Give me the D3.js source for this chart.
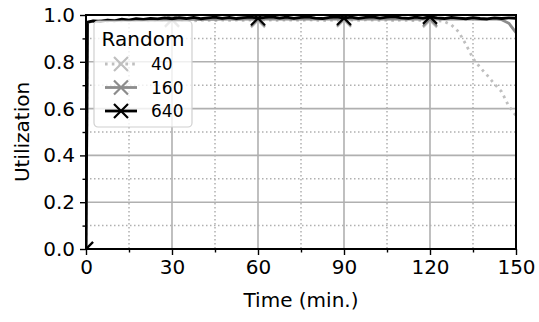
<!DOCTYPE html>
<meta charset="utf-8" />
<style>
  body { margin: 0; background: #fff; }
  svg { font-family: "DejaVu Sans", sans-serif; }
  .axis path, .axis line { stroke: #000; }
</style>
<body>
<script src="https://d3js.org/d3.v7.min.js"></script>
<script>
// time in minutes
var times = [0, 0.5, 2.5, 5, 7.5, 10, 12.5, 15, 17.5, 20, 22.5, 25, 27.5, 30, 32.5, 35, 37.5, 40,
  42.5, 45, 47.5, 50, 52.5, 55, 57.5, 60, 62.5, 65, 67.5, 70, 72.5, 75, 77.5, 80, 82.5, 85, 87.5,
  90, 92.5, 95, 97.5, 100, 102.5, 105, 107.5, 110, 112.5, 115, 117.5, 120, 122.5, 125, 127.5,
  130, 132.5, 135, 137.5, 140, 142.5, 145, 147.5, 150];

var util40 = [0, 0.965, 0.972, 0.975, 0.973, 0.976, 0.974, 0.977, 0.975, 0.976, 0.974, 0.977, 0.976, 0.978,
  0.976, 0.977, 0.975, 0.978, 0.977, 0.976, 0.978, 0.977, 0.979, 0.977, 0.978, 0.977, 0.979, 0.978,
  0.977, 0.979, 0.978, 0.977, 0.979, 0.978, 0.976, 0.978, 0.977, 0.979, 0.978, 0.977, 0.979, 0.978,
  0.977, 0.978, 0.976, 0.978, 0.977, 0.976, 0.978, 0.977, 0.976, 0.972, 0.957,
  0.928, 0.875, 0.815, 0.775, 0.742, 0.705, 0.672, 0.61, 0.57];

var util160 = [0, 0.968, 0.974, 0.976, 0.978, 0.977, 0.979, 0.978, 0.980, 0.979, 0.981, 0.980, 0.979, 0.981,
  0.980, 0.982, 0.981, 0.980, 0.982, 0.981, 0.983, 0.982, 0.981, 0.983, 0.982, 0.981, 0.983, 0.982,
  0.984, 0.983, 0.982, 0.984, 0.983, 0.982, 0.984, 0.983, 0.982, 0.983, 0.984, 0.982, 0.983, 0.984,
  0.983, 0.982, 0.984, 0.983, 0.982, 0.984, 0.983, 0.982, 0.983, 0.982, 0.984,
  0.983, 0.982, 0.983, 0.981, 0.982, 0.983, 0.980, 0.965, 0.925];

var util640 = [0, 0.97, 0.975, 0.972, 0.978, 0.975, 0.982, 0.978, 0.984, 0.981, 0.986, 0.983, 0.988, 0.984,
  0.989, 0.985, 0.990, 0.984, 0.988, 0.991, 0.986, 0.990, 0.985, 0.989, 0.991, 0.986, 0.990, 0.992,
  0.987, 0.991, 0.986, 0.990, 0.992, 0.987, 0.985, 0.990, 0.992, 0.987, 0.991, 0.986, 0.990, 0.992,
  0.987, 0.991, 0.993, 0.988, 0.986, 0.991, 0.987, 0.992, 0.988, 0.985, 0.990,
  0.987, 0.984, 0.989, 0.985, 0.983, 0.988, 0.985, 0.988, 0.986];

var seriesNames = ["40", "160", "640"];
var markTimes = [[0, 30, 60, 90, 120], [0, 30, 60, 90, 120], [0, 60, 90, 120]];
var xTicks = [0, 30, 60, 90, 120, 150];
var yTicks = [0, 0.2, 0.4, 0.6, 0.8, 1.0];

var colors = ["#bfbfbf", "#8c8c8c", "#000000"];
var dashes = ["2.6,4.2", null, null];
var allVals = [util40, util160, util640];

var W = 539, H = 322;
var margin = { top: 15, right: 23, bottom: 73, left: 86 };
var width = W - margin.left - margin.right,
    height = H - margin.top - margin.bottom;

var x = d3.scaleLinear().domain([0, 150]).range([0, width]);
var y = d3.scaleLinear().domain([0, 1]).range([height, 0]);

var svg = d3.select("body").append("svg")
  .attr("width", W).attr("height", H)
  .append("g")
  .attr("transform", "translate(" + margin.left + "," + margin.top + ")");

svg.append("clipPath").attr("id", "clip")
  .append("rect").attr("width", width).attr("height", height);

// minor grid (dotted)
var g = svg.append("g");
d3.range(15, 150, 30).forEach(function (t) {
  g.append("line").attr("x1", x(t)).attr("x2", x(t)).attr("y1", 0).attr("y2", height)
    .attr("stroke", "#b0b0b0").attr("stroke-width", 1.5).attr("stroke-dasharray", "1.5,2.5");
});
[0.1, 0.3, 0.5, 0.7, 0.9].forEach(function (v) {
  g.append("line").attr("x1", 0).attr("x2", width).attr("y1", y(v)).attr("y2", y(v))
    .attr("stroke", "#b0b0b0").attr("stroke-width", 1.5).attr("stroke-dasharray", "1.5,2.5");
});
// major grid
xTicks.forEach(function (t) {
  g.append("line").attr("x1", x(t)).attr("x2", x(t)).attr("y1", 0).attr("y2", height)
    .attr("stroke", "#b0b0b0").attr("stroke-width", 1.6);
});
yTicks.forEach(function (v) {
  g.append("line").attr("x1", 0).attr("x2", width).attr("y1", y(v)).attr("y2", y(v))
    .attr("stroke", "#b0b0b0").attr("stroke-width", 1.6);
});

var line = d3.line()
  .x(function (d) { return x(d[0]); })
  .y(function (d) { return y(d[1]); });

function xMark(sel, cx, cy, r, color, sw) {
  sel.append("path")
    .attr("d", "M" + (cx - r) + "," + (cy - r) + "L" + (cx + r) + "," + (cy + r) +
      "M" + (cx - r) + "," + (cy + r) + "L" + (cx + r) + "," + (cy - r))
    .attr("stroke", color).attr("stroke-width", sw).attr("fill", "none");
}

var plot = svg.append("g").attr("clip-path", "url(#clip)");
seriesNames.forEach(function (name, i) {
  var pts = times.map(function (t, j) { return [t, allVals[i][j]]; });
  plot.append("path")
    .attr("d", line(pts))
    .attr("fill", "none")
    .attr("stroke", colors[i])
    .attr("stroke-width", 2.8)
    .attr("stroke-linejoin", "round")
    .attr("stroke-dasharray", dashes[i]);
  markTimes[i].forEach(function (t) {
    var j = times.indexOf(t);
    xMark(plot, x(t), y(allVals[i][j]), 7, colors[i], 2.2);
  });
});

// axes
svg.append("g").attr("class", "axis")
  .attr("transform", "translate(0," + height + ")")
  .call(d3.axisBottom(x).tickValues(xTicks).tickSize(6).tickPadding(5));
svg.append("g").attr("class", "axis")
  .attr("transform", "translate(0," + height + ")")
  .call(d3.axisBottom(x).tickValues(d3.range(15, 150, 30)).tickSize(3.5).tickFormat(""));
svg.append("g").attr("class", "axis")
  .call(d3.axisLeft(y).tickValues(yTicks).tickSize(6).tickPadding(5).tickFormat(d3.format(".1f")));
svg.append("g").attr("class", "axis")
  .call(d3.axisLeft(y).tickValues([0.1, 0.3, 0.5, 0.7, 0.9]).tickSize(3.5).tickFormat(""));
svg.selectAll(".axis .domain").remove();
svg.selectAll(".axis line").attr("stroke-width", 1.4);
svg.selectAll(".axis").attr("font-family", null).attr("font-size", null);
svg.selectAll(".tick text").style("font-size", "20px").attr("fill", "#000");

// frame
svg.append("rect").attr("width", width).attr("height", height)
  .attr("fill", "none").attr("stroke", "#000").attr("stroke-width", 2);

// labels
svg.append("text")
  .attr("x", width / 2).attr("y", height + 58)
  .attr("text-anchor", "middle").style("font-size", "20px")
  .text("Time (min.)");
svg.append("text")
  .attr("transform", "translate(" + (-57) + "," + (height / 2) + ") rotate(-90)")
  .attr("text-anchor", "middle").style("font-size", "20px")
  .text("Utilization");

// legend
var lg = svg.append("g").attr("transform", "translate(8,6)");
lg.append("rect").attr("width", 98).attr("height", 106).attr("rx", 4)
  .attr("fill", "#fff").attr("fill-opacity", 0.8)
  .attr("stroke", "#d0d0d0").attr("stroke-width", 1.2);
lg.append("text").attr("x", 49).attr("y", 25).attr("text-anchor", "middle")
  .style("font-size", "20px").text("Random");
seriesNames.forEach(function (name, i) {
  var yy = 43 + i * 23.5;
  lg.append("line").attr("x1", 11).attr("x2", 43).attr("y1", yy).attr("y2", yy)
    .attr("stroke", colors[i]).attr("stroke-width", 2.8)
    .attr("stroke-dasharray", dashes[i]);
  xMark(lg, 27, yy, 7, colors[i], 2.2);
  lg.append("text").attr("x", 57).attr("y", yy + 6)
    .style("font-size", "17px").text(name);
});
</script>
</body>
